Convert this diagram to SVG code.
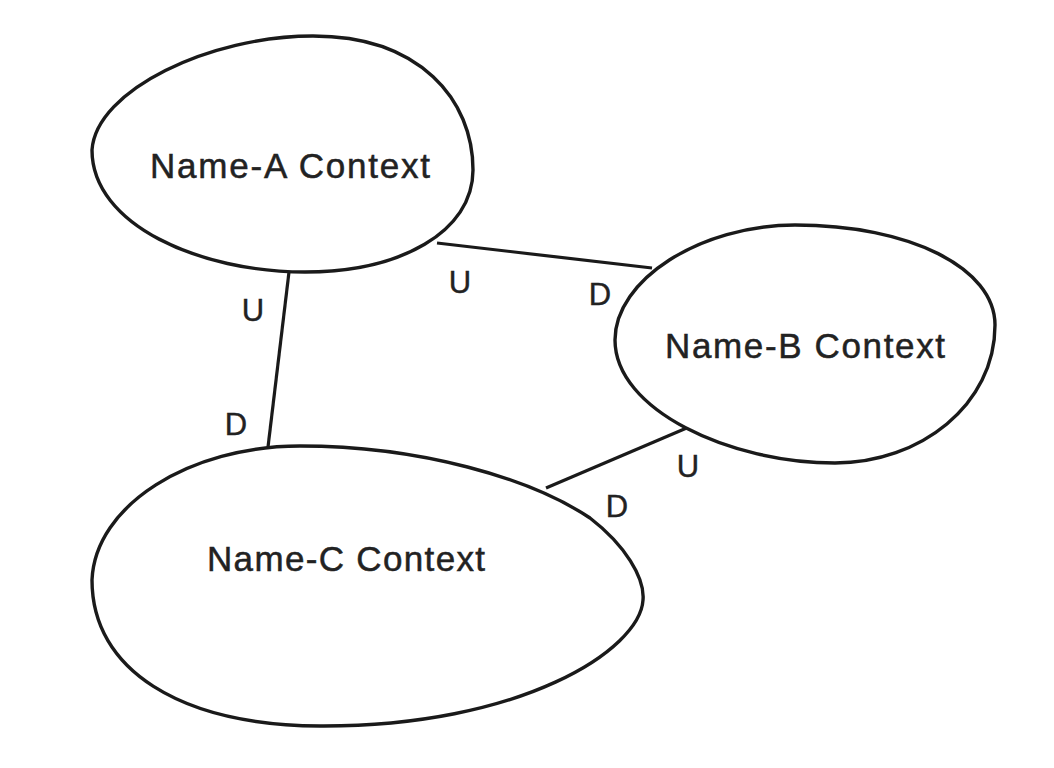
<svg xmlns="http://www.w3.org/2000/svg" width="1054" height="768" viewBox="0 0 1054 768">
<style>
.blob{fill:#ffffff;stroke:#1a1a1a;stroke-width:3.4}
.conn{stroke:#1a1a1a;stroke-width:3.2;fill:none}
.name{font-family:"Liberation Sans",Arial,sans-serif;font-size:35px;fill:#222;stroke:#222;stroke-width:0.5;text-anchor:middle}
.ud{font-family:"Liberation Sans",Arial,sans-serif;font-size:31px;fill:#222;stroke:#222;stroke-width:0.4;text-anchor:middle}
</style>
<rect width="1054" height="768" fill="#ffffff"/>
<g id="connectors">
<line class="conn" x1="289" y1="272" x2="268" y2="447"/>
<line class="conn" x1="437" y1="243" x2="652" y2="268"/>
<line class="conn" x1="689" y1="427" x2="546" y2="488"/>
<text class="ud" x="253" y="321">U</text>
<text class="ud" x="236" y="435">D</text>
<text class="ud" x="460" y="293">U</text>
<text class="ud" x="600" y="305">D</text>
<text class="ud" x="688" y="477">U</text>
<text class="ud" x="617" y="517">D</text>
</g>
<g id="nodeA">
<path class="blob" d="M92,150 C96,90 210,36 313,36 C420,36 473,100 473,170 C473,232 400,272 305,272 C200,272 92,225 92,150 Z"/>
<text class="name" x="290" y="178" textLength="280" lengthAdjust="spacing">Name-A Context</text>
</g>
<g id="nodeB">
<path class="blob" d="M615,340 C615,280 700,225 795,225 C910,225 995,268 995,325 C995,405 920,463 835,463 C730,463 615,410 615,340 Z"/>
<text class="name" x="805" y="358" textLength="280" lengthAdjust="spacing">Name-B Context</text>
</g>
<g id="nodeC">
<path class="blob" d="M92,580 C95,505 190,446 300,446 C420,446 530,478 590,518 C625,545 645,578 643,600 C640,650 520,727 320,726 C180,725 92,670 92,580 Z"/>
<text class="name" x="346" y="571" textLength="278" lengthAdjust="spacing">Name-C Context</text>
</g>
</svg>
